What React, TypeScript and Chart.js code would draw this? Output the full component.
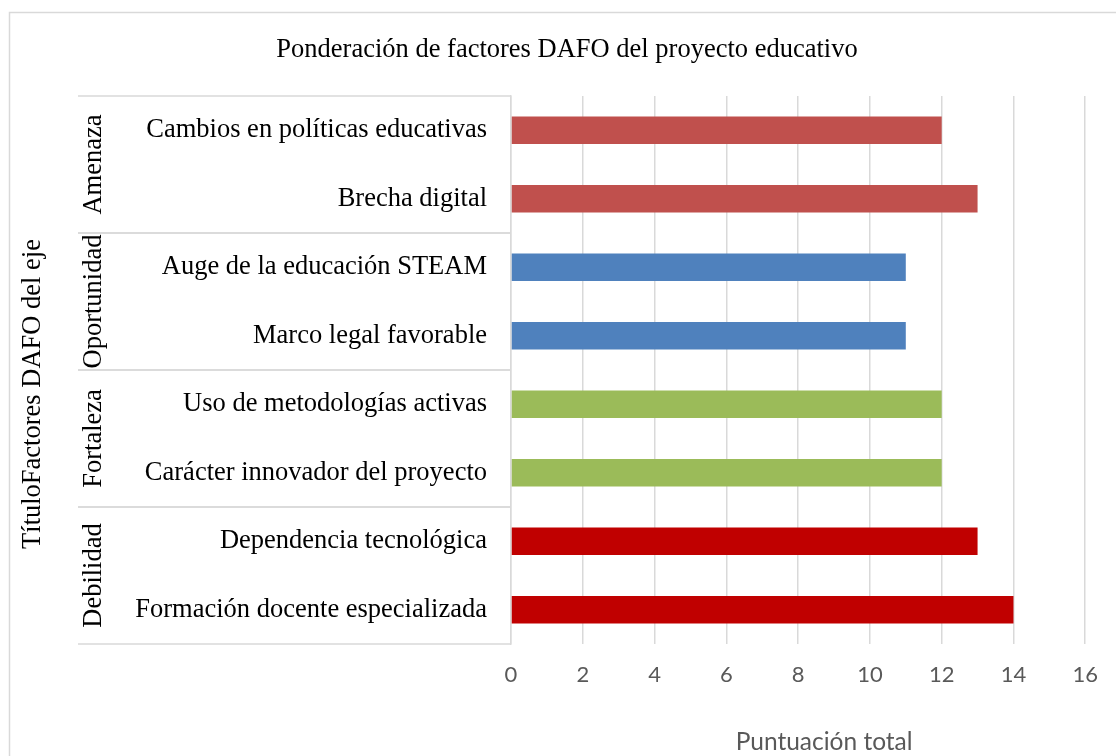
import React, { useEffect, useRef } from 'react';
import { Chart, registerables } from 'chart.js';

Chart.register(...registerables);

const chartTitle = 'Ponderación de factores DAFO del proyecto educativo';
const yAxisTitle = 'TítuloFactores DAFO del eje';
const xAxisTitle = 'Puntuación total';
const groups = ['Amenaza', 'Oportunidad', 'Fortaleza', 'Debilidad'];
const groupColors = ['#C0504D', '#4F81BD', '#9BBB59', '#C00000'];
const categories = [
  'Cambios en políticas educativas',
  'Brecha digital',
  'Auge de la educación STEAM',
  'Marco legal favorable',
  'Uso de metodologías activas',
  'Carácter innovador del proyecto',
  'Dependencia tecnológica',
  'Formación docente especializada',
];
const categoryGroup = [0, 0, 1, 1, 2, 2, 3, 3];
const values = [12, 13, 11, 11, 12, 12, 13, 14];
const xMin = 0;
const xMax = 16;
const xStep = 2;

const SERIF = "'Times New Roman', 'Liberation Serif', serif";
const SANS = "Lato, 'Liberation Sans', sans-serif";
const LINE = '#d9d9d9';

const decorPlugin = {
  id: 'decor',
  beforeDraw(chart: any) {
    const ctx = chart.ctx;
    ctx.save();
    ctx.fillStyle = '#ffffff';
    ctx.fillRect(0, 0, chart.width, chart.height);
    ctx.strokeStyle = LINE;
    ctx.lineWidth = 1.5;
    ctx.strokeRect(9.5, 12.5, chart.width + 40, chart.height + 40);
    ctx.restore();
  },
  afterDraw(chart: any) {
    const ctx = chart.ctx;
    const y = chart.scales.y;
    const x = chart.scales.x;
    const area = chart.chartArea;
    const half = Math.abs(y.getPixelForValue(1) - y.getPixelForValue(0)) / 2;
    const lineLeft = 78;
    ctx.save();
    ctx.strokeStyle = LINE;
    ctx.lineWidth = 1.5;
    ctx.fillStyle = '#000000';
    ctx.font = `26.5px ${SERIF}`;
    groups.forEach((g, gi) => {
      const idx = categoryGroup
        .map((c, i) => (c === gi ? i : -1))
        .filter((i) => i >= 0);
      const top = y.getPixelForValue(idx[0]) - half;
      const bottom = y.getPixelForValue(idx[idx.length - 1]) + half;
      ctx.beginPath();
      ctx.moveTo(lineLeft, top);
      ctx.lineTo(area.left, top);
      ctx.moveTo(lineLeft, bottom);
      ctx.lineTo(area.left, bottom);
      ctx.stroke();
      ctx.save();
      ctx.translate(94, (top + bottom) / 2);
      ctx.rotate(-Math.PI / 2);
      ctx.textAlign = 'center';
      ctx.textBaseline = 'middle';
      ctx.fillText(g, 0, 0);
      ctx.restore();
    });

    // chart title
    ctx.textAlign = 'center';
    ctx.textBaseline = 'alphabetic';
    ctx.fillText(chartTitle, 567, 57);

    // y axis title
    ctx.save();
    ctx.translate(33, 394);
    ctx.rotate(-Math.PI / 2);
    ctx.textAlign = 'center';
    ctx.textBaseline = 'middle';
    ctx.fillText(yAxisTitle, 0, 0);
    ctx.restore();

    // x axis title
    ctx.fillStyle = '#595959';
    ctx.font = `24.5px ${SANS}`;
    ctx.textAlign = 'center';
    ctx.textBaseline = 'alphabetic';
    ctx.fillText(xAxisTitle, (x.left + x.right) / 2 + 26, 750);
    ctx.restore();
  },
};

export default function App() {
  const canvasRef = useRef<HTMLCanvasElement | null>(null);

  useEffect(() => {
    const canvas = canvasRef.current;
    if (!canvas) return;
    const chart = new Chart(canvas, {
      type: 'bar',
      data: {
        labels: categories,
        datasets: [
          {
            data: values,
            backgroundColor: categoryGroup.map((g) => groupColors[g]),
            borderWidth: 0,
            barPercentage: 0.4,
            categoryPercentage: 1,
          },
        ],
      },
      options: {
        indexAxis: 'y',
        responsive: false,
        animation: false,
        layout: { padding: { top: 96, right: 28, bottom: 0, left: 0 } },
        plugins: {
          legend: { display: false },
          title: { display: false },
          tooltip: { enabled: false },
        },
        scales: {
          x: {
            min: xMin,
            max: xMax,
            ticks: {
              stepSize: xStep,
              color: '#595959',
              font: { family: SANS, size: 22 },
              padding: 18,
            },
            grid: { color: LINE, lineWidth: 1.5, drawTicks: false },
            border: { display: false },
            afterFit: (scale: any) => {
              scale.height = 112;
            },
          },
          y: {
            ticks: {
              color: '#000000',
              font: { family: SERIF, size: 26.5 },
              padding: 24,
              autoSkip: false,
            },
            grid: { display: false, drawTicks: false },
            border: { display: true, color: LINE, width: 1.5 },
            afterFit: (scale: any) => {
              scale.width = 511;
            },
          },
        },
      },
      plugins: [decorPlugin],
    });
    return () => chart.destroy();
  }, []);

  return (
    <div style={{ position: 'absolute', left: 0, top: 0, width: 1116, height: 756 }}>
      <canvas ref={canvasRef} width={1116} height={756} style={{ display: 'block' }} />
    </div>
  );
}
